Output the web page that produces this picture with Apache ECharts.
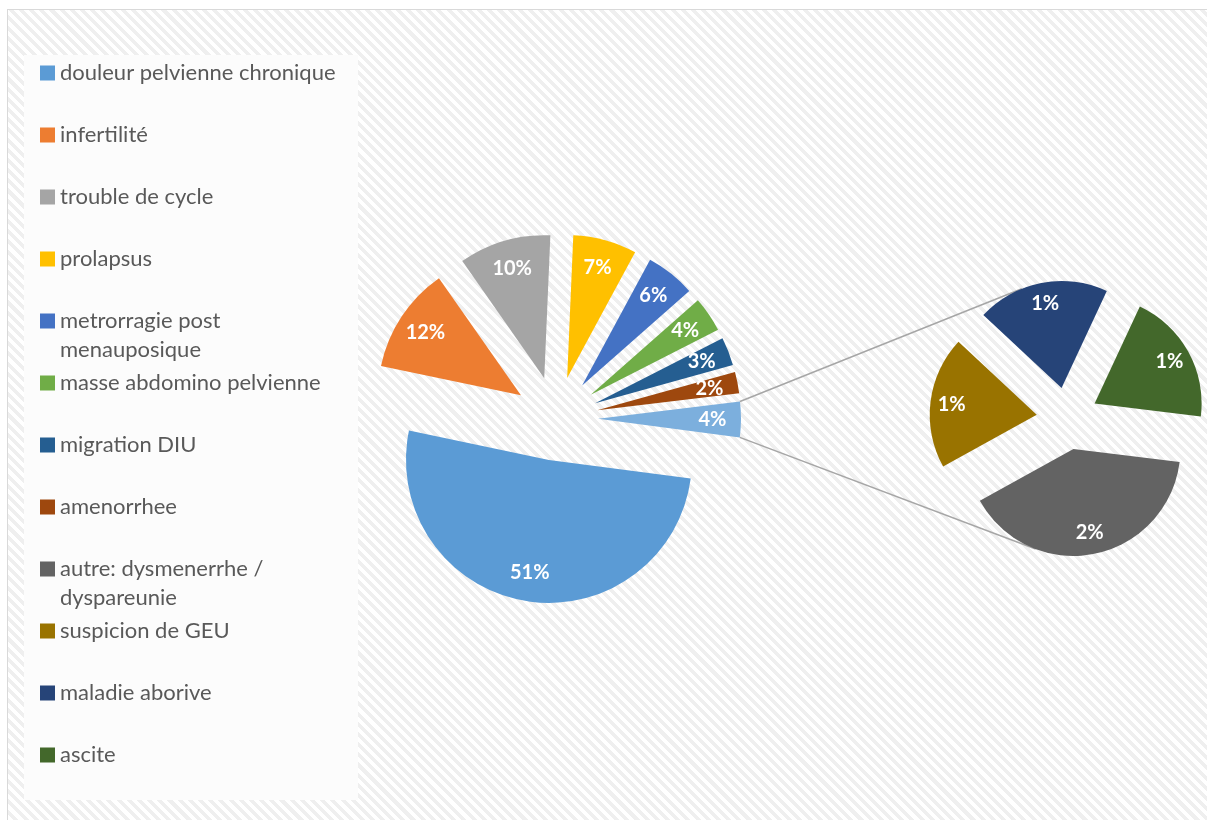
<!DOCTYPE html>
<html>
<head>
<meta charset="utf-8">
<script src="https://cdn.jsdelivr.net/npm/echarts@6/dist/echarts.min.js"></script>
<style>
  html, body { margin: 0; padding: 0; background: #ffffff; overflow: hidden; }
  #frame {
    position: absolute; left: 7px; top: 9px; width: 1240px; height: 850px;
    border: 1.5px solid #d9d9d9;
    background: repeating-linear-gradient(45deg, #ffffff 0px, #ffffff 3.6px, #efefef 3.6px, #efefef 7.2px);
  }
  #chart { position: absolute; left: 0; top: 0; width: 1207px; height: 820px; }
</style>
</head>
<body>
<div id="frame"></div>
<div id="chart"></div>
<script>
// Patient counts per indication (main pie)
const mainNames = [
  'douleur pelvienne chronique',
  'infertilité',
  'trouble de cycle',
  'prolapsus',
  'metrorragie post menauposique',
  'masse abdomino pelvienne',
  'migration DIU',
  'amenorrhee'
];
const mainCounts = [64, 15, 13, 9, 7, 5, 4, 3];
const mainColors = ['#5b9bd5', '#ed7d31', '#a5a5a5', '#ffc000', '#4472c4', '#70ad47', '#255e91', '#9e480e'];

// Smaller indications, grouped in the main pie and detailed in the side pie
const subNames = ['autre: dysmenerrhe / dyspareunie', 'suspicion de GEU', 'maladie aborive', 'ascite'];
const subCounts = [2, 1, 1, 1];
const subColors = ['#636363', '#997300', '#264478', '#43682b'];

const groupName = 'Autres';
const groupColor = '#7cafdd';

const sum = a => a.reduce((s, v) => s + v, 0);
const groupCount = sum(subCounts);
const total = sum(mainCounts) + groupCount;
const pct = v => Math.round(v / total * 100) + '%';

// geometry of both pies
const MAIN = { cx: 556, cy: 418.5, r: 143, explode: 42, start: -7.5 };
const SUB = { cx: 1067.5, cy: 418.5, r: 107, explode: 31, start: -7 };
const LABEL_RATIO = 0.8;

const mainValues = mainCounts.concat([groupCount]);
const mainLabels = mainNames.concat([groupName]);
const mainPalette = mainColors.concat([groupColor]);

const FONT = 'Lato, "Open Sans", sans-serif';
const LEGEND_SIZE = 22;
const WRAP = 290;

// legend entries longer than the wrap width break onto a second line
const measureCtx = document.createElement('canvas').getContext('2d');
measureCtx.font = LEGEND_SIZE + 'px Lato';
const wraps = name => measureCtx.measureText(name).width > WRAP;

// legend icon: a 15x15 square at the top of a 15x60 box, level with the first text line
const ICON = 'path://M0,0M0,60M0,8h15v15h-15z';

const legendNames = mainNames.concat(subNames);

function pieData(names, values, colors) {
  return names.map((n, i) => ({ name: n, value: values[i], selected: true, itemStyle: { color: colors[i] } }));
}

function slicePie(g, names, values, colors) {
  return {
    type: 'pie', center: [g.cx, g.cy], radius: g.r, startAngle: g.start, clockwise: true,
    selectedMode: 'multiple', selectedOffset: g.explode,
    itemStyle: { borderWidth: 0 },
    label: { show: false }, labelLine: { show: false },
    emphasis: { disabled: true }, select: { disabled: false, itemStyle: { borderWidth: 0 } },
    data: pieData(names, values, colors), z: 2
  };
}

// transparent twin pie that only carries the percentage labels further out in each slice
function labelPie(g, names, values) {
  return {
    type: 'pie', center: [g.cx, g.cy], radius: 2 * (LABEL_RATIO * g.r - 3), startAngle: g.start, clockwise: true,
    selectedMode: 'multiple', selectedOffset: g.explode, silent: true,
    avoidLabelOverlap: false, minShowLabelAngle: 0,
    labelLayout: { hideOverlap: false },
    itemStyle: { color: 'rgba(0,0,0,0)', borderWidth: 0 },
    label: {
      show: true, position: 'inside', formatter: p => pct(p.value),
      color: '#ffffff', fontFamily: FONT, fontWeight: 'bold', fontSize: 20, textBorderWidth: 0
    },
    labelLine: { show: false },
    emphasis: { disabled: true },
    tooltip: { show: false },
    data: names.map((n, i) => ({ name: n, value: values[i], selected: true })), z: 3
  };
}

// slice angles in screen space (radians, clockwise from 3 o'clock)
function sliceAngles(g, values, i) {
  const s = sum(values);
  const before = sum(values.slice(0, i));
  const a0 = (-g.start + 360 * before / s) * Math.PI / 180;
  const a1 = a0 + 360 * values[i] / s * Math.PI / 180;
  return { a0, a1, mid: (a0 + a1) / 2 };
}
function sliceTip(g, values, i) {
  const m = sliceAngles(g, values, i).mid;
  return [g.cx + g.explode * Math.cos(m), g.cy + g.explode * Math.sin(m)];
}
function sliceAt(g, values, angleDeg) {
  for (let i = 0; i < values.length; i++) {
    const a = sliceAngles(g, values, i);
    const t = angleDeg * Math.PI / 180;
    for (const k of [-2, -1, 0, 1]) {
      const tt = t + k * 2 * Math.PI;
      if (tt >= a.a0 && tt < a.a1) return i;
    }
  }
  return 0;
}
function tangent(p, o, r, sign) {
  const dx = p[0] - o[0], dy = p[1] - o[1];
  const d = Math.hypot(dx, dy);
  const t = Math.atan2(dy, dx) + sign * Math.acos(r / d);
  return [o[0] + r * Math.cos(t), o[1] + r * Math.sin(t)];
}

// connector lines from the grouped slice to the side pie
const gi = mainValues.length - 1;
const ga = sliceAngles(MAIN, mainValues, gi);
const gt = sliceTip(MAIN, mainValues, gi);
const cornerTop = [gt[0] + MAIN.r * Math.cos(ga.a0), gt[1] + MAIN.r * Math.sin(ga.a0)];
const cornerBottom = [gt[0] + MAIN.r * Math.cos(ga.a1), gt[1] + MAIN.r * Math.sin(ga.a1)];
const topSlice = sliceAt(SUB, subCounts, 270);
const bottomSlice = sliceAt(SUB, subCounts, 90);
const endTop = tangent(cornerTop, sliceTip(SUB, subCounts, topSlice), SUB.r, 1);
const endBottom = tangent(cornerBottom, sliceTip(SUB, subCounts, bottomSlice), SUB.r, -1);

const lineStyle = { stroke: '#a6a6a6', lineWidth: 1.5 };

const chart = echarts.init(document.getElementById('chart'), null, { renderer: 'canvas' });
chart.setOption({
  backgroundColor: 'transparent',
  animation: false,
  legend: {
    orient: 'vertical', left: 40, top: 57.5, padding: 0,
    itemWidth: 15, itemHeight: 60, itemGap: 2, icon: ICON,
    data: legendNames,
    // every entry takes two text lines so all entries share the same height
    formatter: name => wraps(name) ? name : name + '\n\u00a0',
    textStyle: {
      fontFamily: FONT, fontSize: LEGEND_SIZE, color: '#595959',
      lineHeight: 29, width: WRAP, overflow: 'break'
    },
    z: 4
  },
  graphic: [
    { type: 'rect', left: 24, top: 55, z: 0, silent: true, shape: { width: 334, height: 745 }, style: { fill: '#fcfcfc' } },
    { type: 'line', z: 1, silent: true, shape: { x1: cornerTop[0], y1: cornerTop[1], x2: endTop[0], y2: endTop[1] }, style: lineStyle },
    { type: 'line', z: 1, silent: true, shape: { x1: cornerBottom[0], y1: cornerBottom[1], x2: endBottom[0], y2: endBottom[1] }, style: lineStyle }
  ],
  series: [
    slicePie(MAIN, mainLabels, mainValues, mainPalette),
    slicePie(SUB, subNames, subCounts, subColors),
    labelPie(MAIN, mainLabels, mainValues),
    labelPie(SUB, subNames, subCounts)
  ]
});
</script>
</body>
</html>
